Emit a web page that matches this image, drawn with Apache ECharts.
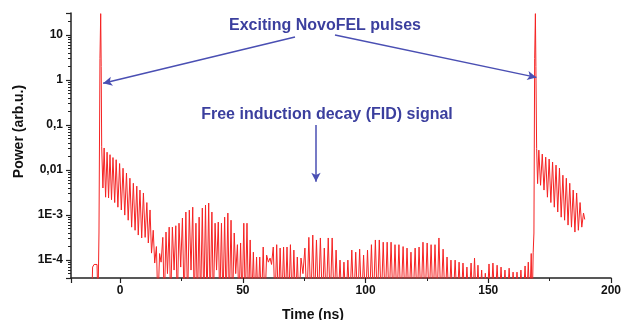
<!DOCTYPE html>
<html>
<head>
<meta charset="utf-8">
<script src="https://cdn.jsdelivr.net/npm/echarts@6/dist/echarts.min.js"></script>
<style>
html,body{margin:0;padding:0;background:#fff}
#fid{width:622px;height:320px}
</style>
</head>
<body>
<div id="fid"></div>
<script>
// values: time in ns, power in arb.u.
// the two NovoFEL pulses
var pulseTime  = [-11.6, -11.2, -10.6, -10.0, -9.4, -9.0, -8.6, -8.2, -7.9, -7.7, -7.5,
                  167.9, 168.3, 168.6, 168.9, 169.2, 169.4, 169.7];
var pulsePower = [1e-5, 7e-5, 8e-5, 7.5e-5, 8e-5, 1e-5, 4e-4, 3, 30, 2, 0.033,
                  1e-5, 1.5e-4, 4e-4, 3, 30, 2, 0.03];

// maxima of the FID oscillation (first decay, then the one after the 2nd pulse)
var peakTime = [
  -6.5, -5.3, -4.1, -2.9, -1.6, -0.2, 1.2, 2.6, 4.0, 5.4,
  6.8, 8.1, 9.5, 10.9, 12.2, 13.5, 14.8, 16.1, 17.4, 18.7,
  20.0, 21.3, 22.7, 24.0, 25.4, 26.8, 28.2, 29.6, 30.9, 32.2,
  33.5, 34.8, 36.1, 37.4, 38.7, 40.0, 41.3, 42.6, 43.9, 45.2,
  46.5, 47.8, 49.1, 50.4, 51.7, 53.0, 54.3, 55.6, 56.9, 58.3,
  59.7, 61.1, 62.4, 63.8, 65.2, 66.6, 68.0, 69.4, 70.8, 72.2,
  73.7, 75.3, 76.9, 78.5, 80.0, 81.6, 83.2, 84.8, 86.4, 88.0,
  89.6, 91.2, 92.8, 94.4, 96.0, 97.6, 99.2, 100.8, 102.4, 104.0,
  105.6, 107.2, 108.8, 110.4, 112.0, 113.6, 115.3, 116.9, 118.5, 120.2,
  121.8, 123.4, 125.1, 126.7, 128.3, 129.9, 131.6, 133.2, 134.8, 136.5,
  138.1, 139.7, 141.3, 143.0, 144.4, 145.8, 147.3, 148.8, 150.3, 151.9,
  153.6, 155.2, 156.8, 158.5, 160.1, 161.7, 163.3, 165.0, 166.3, 167.5,
  170.6, 172.0, 173.4, 174.8, 176.2, 177.6, 179.0, 180.4, 181.8, 183.2,
  184.6, 186.0, 187.4, 188.8
];
var peakPower = [
  0.031, 0.025, 0.022, 0.019, 0.017, 0.014, 0.011, 0.0086, 0.0066, 0.0051,
  0.0044, 0.0036, 0.0031, 0.0019, 0.0013, 0.00046, 0.0002, 0.00014, 0.00032, 0.00042,
  0.00054, 0.00054, 0.00058, 0.00066, 0.00086, 0.00117, 0.00129, 0.0015, 0.00066, 0.0009,
  0.00143, 0.00167, 0.00185, 0.00117, 0.00066, 0.0007, 0.00066, 0.0009, 0.00111, 0.00077,
  0.0004, 0.00022, 0.00024, 0.00066, 0.00066, 0.00028, 0.00015, 0.000117, 0.000117, 0.000195,
  0.000129, 0.000111, 0.000195, 0.00022, 0.000185, 0.000195, 0.000195, 0.00022, 0.000167, 0.000117,
  0.000111, 0.000185, 0.00032, 0.00036, 0.00028, 0.00031, 0.000185, 0.00031, 0.00031, 0.000167,
  0.0001, 0.00009, 0.0001, 0.000167, 0.00015, 0.000175, 0.000129, 0.000167, 0.00022, 0.00028,
  0.00028, 0.00025, 0.00025, 0.00025, 0.00022, 0.00022, 0.0002, 0.000185, 0.00015, 0.000185,
  0.000195, 0.00025, 0.00024, 0.00022, 0.00022, 0.00031, 0.000175, 0.000117, 0.0001, 0.0001,
  0.00009, 0.000086, 0.00007, 0.000086, 0.000111, 0.000077, 0.00006, 0.000051, 0.000082, 0.000086,
  0.000077, 0.00007, 0.00006, 0.000066, 0.000054, 0.000054, 0.00006, 0.000074, 0.00009, 0.00014,
  0.0278, 0.0227, 0.0194, 0.0176, 0.0151, 0.0129, 0.0111, 0.0077, 0.0066, 0.0051,
  0.0036, 0.0031, 0.0019, 0.00111
];

// minima between the maxima (1e-5 = drops below the axis)
var dipTime = [
  -7.0, -5.9, -4.7, -3.5, -2.2, -0.9, 0.5, 1.9, 3.3, 4.7,
  6.1, 7.4, 8.8, 10.2, 11.5, 12.8, 14.1, 15.4, 16.7, 18.0,
  19.3, 20.6, 22.0, 23.3, 24.7, 26.1, 27.5, 28.9, 30.2, 31.5,
  32.8, 34.1, 35.4, 36.7, 38.0, 39.3, 40.6, 41.9, 43.2, 44.5,
  45.8, 47.1, 48.4, 49.7, 51.0, 52.3, 53.6, 54.9, 56.2, 57.6,
  59.0, 60.4, 61.7, 63.1, 64.5, 65.9, 67.3, 68.7, 70.1, 71.5,
  72.9, 74.5, 76.1, 77.7, 79.2, 80.8, 82.4, 84.0, 85.6, 87.2,
  88.8, 90.4, 92.0, 93.6, 95.2, 96.8, 98.4, 100.0, 101.6, 103.2,
  104.8, 106.4, 108.0, 109.6, 111.2, 112.8, 114.4, 116.1, 117.7, 119.3,
  121.0, 122.6, 124.2, 125.9, 127.5, 129.1, 130.7, 132.4, 134.0, 135.6,
  137.3, 138.9, 140.5, 142.1, 143.7, 145.1, 146.5, 148.0, 149.5, 151.1,
  152.7, 154.4, 156.0, 157.6, 159.3, 160.9, 162.5, 164.1, 165.6, 166.9,
  170.1, 171.3, 172.7, 174.1, 175.5, 176.9, 178.3, 179.7, 181.1, 182.5,
  183.9, 185.3, 186.7, 188.1, 189.3
];
var dipPower = [
  0.004, 0.0025, 0.0024, 0.0022, 0.0019, 0.0015, 0.0013, 0.001, 0.00077, 0.00054,
  0.00046, 0.00036, 0.00031, 0.00032, 0.00024, 0.000143, 0.000086, 1e-5, 0.00009, 1e-5,
  0.00005, 1e-5, 0.00006, 1e-5, 0.00007, 1e-5, 1e-5, 0.00006, 1e-5, 1e-5,
  1e-5, 1e-5, 1e-5, 1e-5, 1e-5, 0.00006, 1e-5, 1e-5, 1e-5, 1e-5,
  1e-5, 0.00005, 1e-5, 1e-5, 1e-5, 1e-5, 1e-5, 1e-5, 1e-5, 1e-5,
  1e-5, 0.00009, 0.00008, 1e-5, 1e-5, 1e-5, 1e-5, 1e-5, 1e-5, 1e-5,
  1e-5, 0.00005, 1e-5, 1e-5, 1e-5, 1e-5, 1e-5, 1e-5, 1e-5, 1e-5,
  1e-5, 1e-5, 1e-5, 1e-5, 1e-5, 1e-5, 1e-5, 1e-5, 1e-5, 1e-5,
  1e-5, 1e-5, 1e-5, 1e-5, 1e-5, 1e-5, 1e-5, 1e-5, 1e-5, 1e-5,
  1e-5, 1e-5, 1e-5, 1e-5, 1e-5, 1e-5, 1e-5, 1e-5, 1e-5, 1e-5,
  1e-5, 1e-5, 1e-5, 1e-5, 1e-5, 1e-5, 1e-5, 1e-5, 1e-5, 1e-5,
  1e-5, 1e-5, 1e-5, 1e-5, 1e-5, 1e-5, 1e-5, 1e-5, 1e-5, 1e-5,
  0.005, 0.0046, 0.0036, 0.0025, 0.0019, 0.0015, 0.00117, 0.0009, 0.00077, 0.0006,
  0.00054, 0.00042, 0.00046, 0.00054, 0.0008
];

var yTickLabels = ['1E-4', '1E-3', '0,01', '0,1', '1', '10'];  // 10^-4 .. 10^1
var arrowTips = [[-6.9, 0.85], [169.6, 1.15], [79.8, 0.0055]];

var FONT = '"Liberation Sans", Arial, sans-serif';
var BLUE = '#3b3f9e';

function zip(t, v, out) {
  var n = Math.min(t.length, v.length);
  for (var i = 0; i < n; i++) out.push([t[i], v[i]]);
}
var trace = [];
zip(pulseTime, pulsePower, trace);
zip(peakTime, peakPower, trace);
zip(dipTime, dipPower, trace);
trace.sort(function (a, b) { return a[0] - b[0]; });

var myChart = echarts.init(document.getElementById('fid'), null, {renderer: 'canvas'});

var option = {
  animation: false,
  backgroundColor: '#fff',
  grid: {left: 71, right: 11, top: 13, bottom: 42, containLabel: false, outerBoundsMode: 'none'},
  xAxis: {
    type: 'value',
    min: -20,
    max: 200,
    name: 'Time (ns)',
    nameLocation: 'middle',
    nameGap: 30,
    nameTextStyle: {fontFamily: FONT, fontWeight: 'bold', fontSize: 14, color: '#111', padding: [0, 56, 0, 0]},
    axisLine: {onZero: false, lineStyle: {color: '#222', width: 1.5}},
    axisTick: {length: 5, lineStyle: {color: '#222', width: 1.2}},
    minorTick: {show: true, splitNumber: 2, length: 3, lineStyle: {color: '#222'}},
    splitLine: {show: false},
    axisLabel: {showMinLabel: false, margin: 7, fontFamily: FONT, fontWeight: 'bold', fontSize: 12, color: '#111'}
  },
  yAxis: {
    type: 'log',
    min: 4e-5,
    max: 31,
    name: 'Power (arb.u.)',
    nameLocation: 'middle',
    nameGap: 45,
    nameTextStyle: {fontFamily: FONT, fontWeight: 'bold', fontSize: 14, color: '#111', padding: [0, 0, 0, 28]},
    axisLine: {onZero: false, lineStyle: {color: '#222', width: 1.5}},
    axisTick: {length: 5, lineStyle: {color: '#222', width: 1.2}},
    minorTick: {show: true, splitNumber: 9, length: 3, lineStyle: {color: '#222'}},
    splitLine: {show: false},
    axisLabel: {
      showMinLabel: false,
      showMaxLabel: false,
      margin: 8,
      fontFamily: FONT, fontWeight: 'bold', fontSize: 12, color: '#111',
      formatter: function (v) {
        var e = Math.log10(v), k = Math.round(e);
        if (Math.abs(e - k) > 0.01) return '';
        return yTickLabels[k + 4] || '';
      }
    }
  },
  series: [{
    type: 'line',
    data: trace,
    showSymbol: false,
    sampling: null,
    clip: true,
    lineStyle: {color: '#f52323', width: 1},
    markLine: {
      silent: true,
      symbol: ['none', 'arrow'],
      symbolSize: [7, 9],
      label: {show: false},
      lineStyle: {color: '#4a4fb3', width: 1.5, type: 'solid'},
      data: [
        [{x: 295, y: 37}, {coord: arrowTips[0]}],
        [{x: 335, y: 35}, {coord: arrowTips[1]}],
        [{x: 316, y: 125}, {coord: arrowTips[2]}]
      ]
    }
  }],
  graphic: [
    {type: 'text', x: 325, y: 26, style: {text: 'Exciting NovoFEL pulses', fill: BLUE,
      font: 'bold 16px ' + FONT, align: 'center', verticalAlign: 'middle'}},
    {type: 'text', x: 327, y: 115, style: {text: 'Free induction decay (FID) signal', fill: BLUE,
      font: 'bold 16px ' + FONT, align: 'center', verticalAlign: 'middle'}}
  ]
};

myChart.setOption(option);
window.addEventListener('resize', function () {
  myChart.resize();
});
</script>
</body>
</html>
